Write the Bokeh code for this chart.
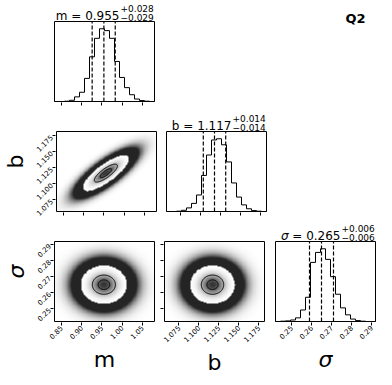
import numpy as np
from math import pi
from bokeh.plotting import figure
from bokeh.layouts import column, row, Spacer
from bokeh.models import Range1d, FixedTicker, PrintfTickFormatter, Label
from bokeh.embed import file_html
from bokeh.resources import INLINE

# ---------------- data ----------------
params = ["m", "b", "σ"]
ranges = {"m": (0.833, 1.080), "b": (1.057, 1.182), "σ": (0.242, 0.292)}
ticks = {"m": [0.85, 0.90, 0.95, 1.00, 1.05],
         "b": [1.075, 1.100, 1.125, 1.150, 1.175],
         "σ": [0.25, 0.26, 0.27, 0.28, 0.29]}
tick_fmt = {"m": "%.2f", "b": "%.3f", "σ": "%.2f"}

hist_m = [0, 0, 1, 4, 15, 30, 75, 145, 205, 236, 230, 205, 130, 78, 45, 22, 8, 3, 1, 0]
hist_b = [0, 0, 1, 4, 12, 27, 55, 120, 188, 238, 242, 222, 165, 95, 48, 22, 9, 3, 1, 0]
hist_s = [0, 1, 2, 5, 12, 38, 80, 195, 228, 240, 205, 148, 90, 45, 22, 8, 3, 1, 0, 0]
hists = {"m": hist_m, "b": hist_b, "σ": hist_s}

q16 = {"m": 0.926, "b": 1.103, "σ": 0.259}
q50 = {"m": 0.955, "b": 1.117, "σ": 0.265}
q84 = {"m": 0.983, "b": 1.131, "σ": 0.271}
median_txt = {"m": "0.955", "b": "1.117", "σ": "0.265"}
plus_txt = {"m": "+0.028", "b": "+0.014", "σ": "+0.006"}
minus_txt = {"m": "−0.029", "b": "−0.014", "σ": "−0.006"}

# spread of the 2-D clouds (sd per parameter, correlation per pair)
sds = {"m": 0.0285, "b": 0.014, "σ": 0.006}
corr = {("m", "b"): 0.8, ("m", "σ"): 0.0, ("b", "σ"): 0.0}
corner_tag = "Q2"

# ---------------- layout ----------------
FW, FH = 100, 80          # visible panel box
PAD = 1
COLB = [(54, 5), (5, 5), (6, 1)]
ROWB = [(21, 9), (21, 9), (21, 48)]   # (title strip, bottom border)
FONT = "DejaVu Sans"


def panel_fig(ci, ri, xr, yr):
    """Figure whose frame holds the box plus a title strip; the box is drawn as a glyph."""
    l, r = COLB[ci]
    T, b = ROWB[ri]
    ux = (xr[1] - xr[0]) / FW
    uy = (yr[1] - yr[0]) / FH
    p = figure(frame_width=FW + 2 * PAD, frame_height=FH + PAD + T,
               x_range=Range1d(xr[0] - PAD * ux, xr[1] + PAD * ux),
               y_range=Range1d(yr[0] - PAD * uy, yr[1] + T * uy),
               min_border_left=l - PAD, min_border_right=max(r - PAD, 0),
               min_border_top=0, min_border_bottom=b - PAD,
               output_backend="svg", toolbar_location=None, title=None)
    p.grid.visible = False
    p.outline_line_color = None
    return p


def draw_box(p, xr, yr):
    p.quad(left=[xr[0]], right=[xr[1]], bottom=[yr[0]], top=[yr[1]],
           fill_color=None, line_color="black", line_width=1)


def style_axis(ax, param, labels, label_text=None):
    ax.ticker = FixedTicker(ticks=ticks[param])
    ax.formatter = PrintfTickFormatter(format=tick_fmt[param])
    ax.major_tick_out = 3
    ax.major_tick_in = 0
    ax.minor_tick_out = 0
    ax.minor_tick_in = 0
    ax.axis_line_color = None
    ax.major_tick_line_color = "black"
    if labels:
        ax.major_label_text_font_size = "7px"
        ax.major_label_text_font = FONT
        ax.major_label_text_color = "black"
        ax.major_label_orientation = pi / 4
        ax.major_label_standoff = 1
    else:
        ax.major_label_text_font_size = "1px"
        ax.major_label_text_color = None
        ax.major_label_standoff = 0
    if label_text:
        ax.axis_label = label_text
        ax.axis_label_text_font = FONT
        ax.axis_label_text_font_size = "22px"
        ax.axis_label_text_color = "black"
        ax.axis_label_standoff = 2
        ax.axis_label_text_font_style = "italic" if label_text == "σ" else "normal"


def add_title(p, param, ytop):
    xr = ranges[param]
    cx = 0.5 * (xr[0] + xr[1])
    common = dict(x=cx, y=ytop, text_font=FONT, text_color="black", text_baseline="alphabetic")
    if param == "σ":
        p.add_layout(Label(text="= " + median_txt[param], x_offset=15, y_offset=6,
                           text_align="right", text_font_size="12px", **common))
        p.add_layout(Label(text=param, x_offset=-37, y_offset=6, text_align="right",
                           text_font_size="12px", text_font_style="italic", **common))
    else:
        p.add_layout(Label(text=f"{param} = {median_txt[param]}", x_offset=15, y_offset=6,
                           text_align="right", text_font_size="12px", **common))
    p.add_layout(Label(text=plus_txt[param], x_offset=16, y_offset=13, text_align="left",
                       text_font_size="9px", **common))
    p.add_layout(Label(text=minus_txt[param], x_offset=16, y_offset=4, text_align="left",
                       text_font_size="9px", **common))


def hist_fig(ci, param, bottom_labels):
    h = np.array(hists[param], dtype=float)
    xr = ranges[param]
    yr = (0.0, 1.1 * h.max())
    p = panel_fig(ci, ci, xr, yr)
    draw_box(p, xr, yr)
    edges = np.linspace(xr[0], xr[1], len(h) + 1)
    xs = np.repeat(edges, 2)
    ys = np.concatenate([[0], np.repeat(h, 2), [0]])
    p.line(xs, ys, line_color="black", line_width=1)
    qs = [q16[param], q50[param], q84[param]]
    p.segment(x0=qs, y0=[yr[0]] * 3, x1=qs, y1=[yr[1]] * 3, line_color="black",
              line_dash="4 2", line_width=1.2)
    p.yaxis.visible = False
    style_axis(p.xaxis[0], param, bottom_labels, param if bottom_labels else None)
    add_title(p, param, yr[1])
    return p


def density_rgba(xp, yp, n=180):
    xr, yr = ranges[xp], ranges[yp]
    mx, my = q50[xp], q50[yp]
    sx, sy = sds[xp], sds[yp]
    rho = corr[(xp, yp)]
    xs = np.linspace(xr[0], xr[1], n)
    ys = np.linspace(yr[0], yr[1], n)
    X, Y = np.meshgrid(xs, ys)
    dx = (X - mx) / sx
    dy = (Y - my) / sy
    r2 = (dx ** 2 - 2 * rho * dx * dy + dy ** 2) / (1 - rho ** 2)
    dens = np.exp(-r2 / 2)
    inside = r2 <= 4.0
    a_out = (np.clip(dens * 60, 0, 1) ** 0.6) * 0.86
    t = np.clip((dens - np.exp(-2)) / (1 - np.exp(-2)), 0, 1)
    d = 0.8 * t ** 1.6
    g = (255 * (1 - d)).astype(np.uint8)
    img = np.zeros((n, n, 4), dtype=np.uint8)
    for k in range(3):
        img[..., k] = np.where(inside, g, 0)
    img[..., 3] = np.where(inside, 255, (a_out * 255).astype(np.uint8))
    return img.view(np.uint32).reshape(n, n)


def scatter_fig(ci, ri, xp, yp, bottom_labels, left_labels):
    xr, yr = ranges[xp], ranges[yp]
    p = panel_fig(ci, ri, xr, yr)
    p.image_rgba(image=[density_rgba(xp, yp)], x=xr[0], y=yr[0],
                 dw=xr[1] - xr[0], dh=yr[1] - yr[0])
    mx, my = q50[xp], q50[yp]
    sx, sy = sds[xp], sds[yp]
    rho = corr[(xp, yp)]
    tt = np.linspace(0, 2 * pi, 120)
    for rr in (0.5, 1.0):
        ex = mx + sx * rr * np.cos(tt)
        ey = my + sy * rr * (rho * np.cos(tt) + np.sqrt(1 - rho ** 2) * np.sin(tt))
        p.line(ex, ey, line_color="black", line_width=1)
    draw_box(p, xr, yr)
    style_axis(p.xaxis[0], xp, bottom_labels, xp if bottom_labels else None)
    style_axis(p.yaxis[0], yp, left_labels, yp if left_labels else None)
    return p


h_m = hist_fig(0, "m", False)
h_b = hist_fig(1, "b", False)
h_s = hist_fig(2, "σ", True)
s_bm = scatter_fig(0, 1, "m", "b", False, True)
s_sm = scatter_fig(0, 2, "m", "σ", True, True)
s_sb = scatter_fig(1, 2, "b", "σ", True, False)

cw = [sum(COLB[i]) + FW for i in range(3)]
rh = [sum(ROWB[i]) + FH for i in range(3)]

q2 = figure(width=cw[2], height=rh[0], x_range=Range1d(0, cw[2]), y_range=Range1d(0, rh[0]),
            min_border=0, output_backend="svg", toolbar_location=None, title=None)
q2.axis.visible = False
q2.grid.visible = False
q2.outline_line_color = None
q2.add_layout(Label(x=86, y=91, text=corner_tag, text_font=FONT, text_font_size="13px",
                    text_font_style="bold", text_align="center", text_baseline="middle",
                    text_color="black"))

layout = column(
    row(h_m, Spacer(width=cw[1], height=rh[0]), q2),
    row(s_bm, h_b, Spacer(width=cw[2], height=rh[1])),
    row(s_sm, s_sb, h_s),
)

open("out.html", "w").write(file_html(layout, INLINE))
